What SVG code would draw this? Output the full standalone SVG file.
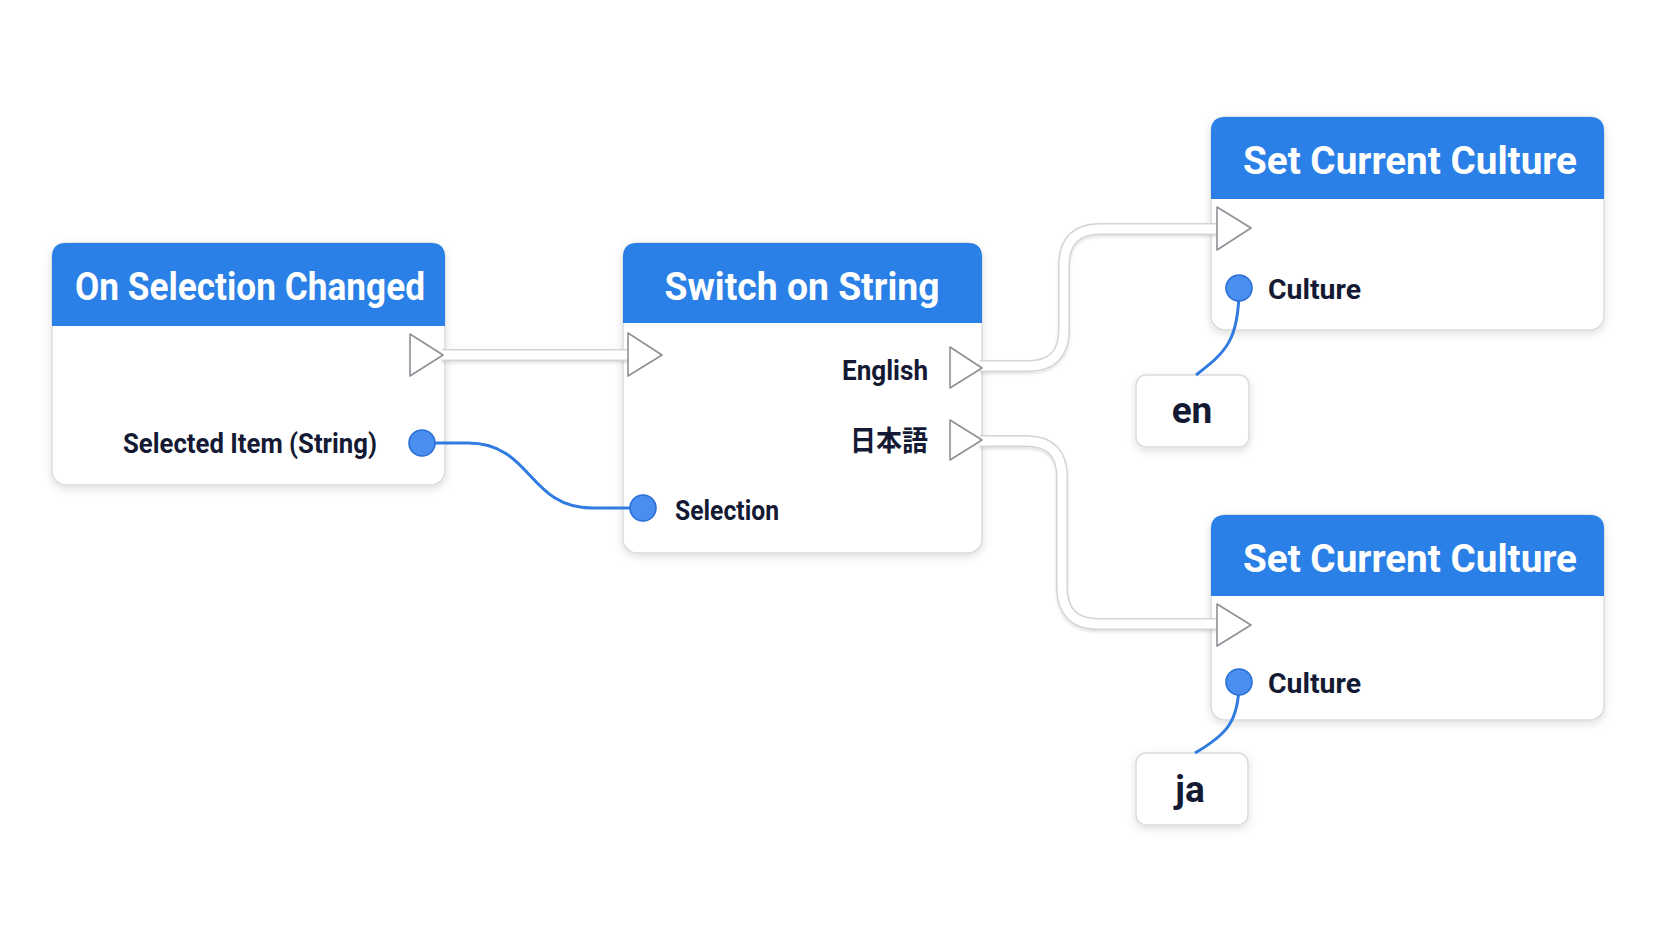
<svg xmlns="http://www.w3.org/2000/svg" width="1672" height="941" viewBox="0 0 1672 941">
<defs>
<filter id="sh" x="-10%" y="-10%" width="120%" height="130%">
<feDropShadow dx="0" dy="3" stdDeviation="4" flood-color="#000" flood-opacity="0.13"/>
</filter>
<filter id="lsh" x="-5%" y="-50%" width="110%" height="200%">
<feDropShadow dx="0" dy="2" stdDeviation="1.5" flood-color="#000" flood-opacity="0.12"/>
</filter>
</defs>
<style>
.box{fill:#fff;stroke:#d9dbe0;stroke-width:1.5}
.hdr{fill:#2a80e6}
.title{font-family:Roboto,"Liberation Sans",sans-serif;font-weight:700;font-size:39px;fill:#fff}
.lbl{font-family:Roboto,"Liberation Sans","Noto Sans CJK JP",sans-serif;font-weight:700;font-size:28px;fill:#141a33}
.val{font-family:Roboto,"Liberation Sans",sans-serif;font-weight:700;font-size:37px;fill:#141a33}
.exo{fill:none;stroke:#d2d4d8;stroke-width:12;stroke-linecap:butt;stroke-linejoin:round}
.exi{fill:none;stroke:#ffffff;stroke-width:9;stroke-linecap:butt;stroke-linejoin:round}
.data{fill:none;stroke:#2f7be0;stroke-width:3}
.tri{fill:#fff;stroke:#8e9096;stroke-width:1.6;stroke-linejoin:round}
.pin{fill:#4a8ef0;stroke:#2a6fd6;stroke-width:1.6}
</style>
<rect width="1672" height="941" fill="#ffffff"/>

<g id="node-on-selection-changed">
<rect class="box" x="52" y="243" width="393" height="242" rx="14" filter="url(#sh)"/>
<path class="hdr" d="M52 326 V257 Q52 243 66 243 H431 Q445 243 445 257 V326 Z"/>
<text class="title" x="250" y="300" text-anchor="middle" textLength="350" lengthAdjust="spacingAndGlyphs">On Selection Changed</text>
<text class="lbl" x="377" y="453" text-anchor="end" textLength="254" lengthAdjust="spacingAndGlyphs">Selected Item (String)</text>
</g>

<g id="node-switch-on-string">
<rect class="box" x="623" y="243" width="359" height="310" rx="14" filter="url(#sh)"/>
<path class="hdr" d="M623 323 V257 Q623 243 637 243 H968 Q982 243 982 257 V323 Z"/>
<text class="title" x="802" y="300" text-anchor="middle" textLength="275" lengthAdjust="spacingAndGlyphs">Switch on String</text>
<text class="lbl" x="928" y="380" text-anchor="end" textLength="86" lengthAdjust="spacingAndGlyphs">English</text>
<text class="lbl" x="928" y="451" text-anchor="end" textLength="78" lengthAdjust="spacingAndGlyphs">日本語</text>
<text class="lbl" x="675" y="520" textLength="104" lengthAdjust="spacingAndGlyphs">Selection</text>
</g>

<g id="node-set-culture-en">
<rect class="box" x="1211" y="117" width="393" height="213" rx="14" filter="url(#sh)"/>
<path class="hdr" d="M1211 199 V131 Q1211 117 1225 117 H1590 Q1604 117 1604 131 V199 Z"/>
<text class="title" x="1410" y="174" text-anchor="middle" textLength="334" lengthAdjust="spacingAndGlyphs">Set Current Culture</text>
<text class="lbl" x="1268" y="299" textLength="93" lengthAdjust="spacingAndGlyphs">Culture</text>
</g>

<g id="node-en">
<rect class="box" x="1136" y="375" width="113" height="72" rx="10" filter="url(#sh)"/>
<text class="val" x="1192" y="423" text-anchor="middle">en</text>
</g>

<g id="node-set-culture-ja">
<rect class="box" x="1211" y="515" width="393" height="205" rx="14" filter="url(#sh)"/>
<path class="hdr" d="M1211 596 V529 Q1211 515 1225 515 H1590 Q1604 515 1604 529 V596 Z"/>
<text class="title" x="1410" y="572" text-anchor="middle" textLength="334" lengthAdjust="spacingAndGlyphs">Set Current Culture</text>
<text class="lbl" x="1268" y="693" textLength="93" lengthAdjust="spacingAndGlyphs">Culture</text>
</g>

<g id="node-ja">
<rect class="box" x="1136" y="753" width="112" height="72" rx="10" filter="url(#sh)"/>
<text class="val" x="1190" y="802" text-anchor="middle">ja</text>
</g>

<g id="connectors">
<g filter="url(#lsh)">
<path class="exo" d="M442 355 H630"/>
<path class="exo" d="M980 366 H1028 Q1064 366 1064 330 V266 Q1064 229 1100 229 H1219"/>
<path class="exo" d="M980 441 H1026 Q1062 441 1062 477 V587 Q1062 624 1098 624 H1219"/>
</g>
<path class="exi" d="M442 355 H630"/>
<path class="exi" d="M980 366 H1028 Q1064 366 1064 330 V266 Q1064 229 1100 229 H1219"/>
<path class="exi" d="M980 441 H1026 Q1062 441 1062 477 V587 Q1062 624 1098 624 H1219"/>
<path class="data" d="M422 443 H468 C 532 443, 528 508, 592 508 H643"/>
<path class="data" d="M1239 288 C 1239 340, 1226 352, 1196 375"/>
<path class="data" d="M1239 682 C 1239 722, 1226 735, 1195 753"/>
</g>

<g id="pins">
<polygon class="tri" points="410,334 443,355 410,376"/>
<circle class="pin" cx="422" cy="443" r="13"/>
<polygon class="tri" points="628,333 662,355 628,376"/>
<polygon class="tri" points="950,347 982,368 950,388"/>
<polygon class="tri" points="950,420 982,440 950,460"/>
<circle class="pin" cx="643" cy="508" r="13"/>
<polygon class="tri" points="1217,207 1251,228 1217,250"/>
<circle class="pin" cx="1239" cy="288" r="13"/>
<polygon class="tri" points="1217,604 1251,625 1217,646"/>
<circle class="pin" cx="1239" cy="682" r="13"/>
</g>
</svg>
